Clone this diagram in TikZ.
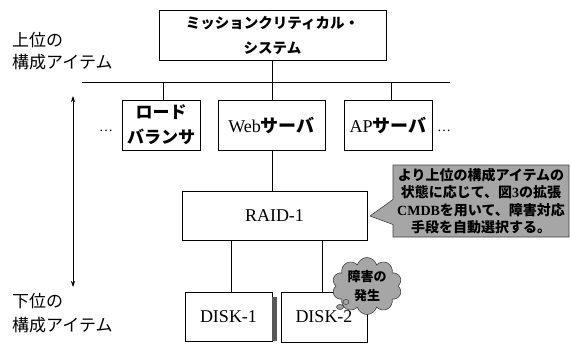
\documentclass[tikz,border=0pt]{standalone}
\usepackage{fontspec}
\setmainfont{Liberation Serif}
\newfontfamily\jp{Noto Sans CJK JP}
\usetikzlibrary{shapes.symbols,shapes.callouts,arrows.meta}
\begin{document}
\begin{tikzpicture}[x=1pt,y=-1pt,
  box/.style={draw, line width=0.7pt, fill=white, inner sep=0pt, align=center},
  link/.style={line width=0.7pt},
  halftone/.style={fill=gray!70, draw=black!75, line width=0.6pt},
  jplabel/.style={font=\jp\fontsize{17}{22}\selectfont, align=left, anchor=west, inner sep=0pt},
  serifbig/.style={font=\fontsize{18}{20}\selectfont},
  dotsnode/.style={font=\fontsize{14}{16}\selectfont, inner sep=0pt}
]
\useasboundingbox (0,0) rectangle (571,345);

% labels
\node[jplabel] (upper) at (12,51) {上位の\\構成アイテム};
\node[jplabel, font=\jp\fontsize{17}{24}\selectfont] (lower) at (12,313) {下位の\\構成アイテム};

% double arrow
\coordinate (aT) at (73,96);
\coordinate (aB) at (73,287);
\draw[link, {Stealth[length=6pt,width=4pt]}-{Stealth[length=6pt,width=4pt]}] (aT) -- (aB);

% top system
\node[box, minimum width=227pt, minimum height=50pt, font=\jp\bfseries\fontsize{14.5}{25}\selectfont] (top) at (272.5,35) {ミッションクリティカル・\\システム};

% bus
\coordinate (busL) at (82,82);
\coordinate (busR) at (450,82);
\draw[link] (busL) -- (busR);
\draw[link] (top.south) -- (top.south |- busL);

% tier 2
\node[box, minimum width=78pt, minimum height=50pt, font=\jp\bfseries\fontsize{17}{25}\selectfont] (lb) at (161,125) {ロード\\バランサ};
\node[box, minimum width=107pt, minimum height=50pt, serifbig] (web) at (271.5,125) {Web{\jp\bfseries サーバ}};
\node[box, minimum width=88pt, minimum height=50pt, serifbig] (ap) at (388,125) {AP{\jp\bfseries サーバ}};

\coordinate (dA) at (163,82);
\coordinate (dC) at (391,82);
\draw[link] (dA) -- (dA |- lb.north);
\draw[link] (top.south |- busL) -- (top.south |- web.north);
\draw[link] (dC) -- (dC |- ap.north);

\node[dotsnode] (dotsL) at (106,131) {\dots};
\node[dotsnode] (dotsR) at (444,131) {\dots};

% RAID
\node[box, minimum width=185pt, minimum height=49pt, serifbig] (raid) at (274.5,215.5) {RAID-1};
\draw[link] (top.south |- web.south) -- (top.south |- raid.north);

% callout
\coordinate (tip) at (370,216);
\node[rectangle callout, halftone, minimum width=176pt, minimum height=72pt,
      callout absolute pointer={(tip)}, callout pointer width=25pt, inner sep=0pt,
      align=center, font=\jp\bfseries\fontsize{14}{17.5}\selectfont] (note) at (481,201)
  {より上位の構成アイテムの\\状態に応じて、図{\rmfamily\bfseries 3}の拡張\\{\rmfamily\bfseries CMDB}を用いて、障害対応\\手段を自動選択する。};

% disks
\node[box, minimum width=87pt, minimum height=49pt, serifbig] (d1) at (228.5,316.5) {DISK-1};
\fill[black!65] ([yshift=-5pt]d1.north east) rectangle ([xshift=5pt]d1.south east);
\node[box, minimum width=86pt, minimum height=50pt, serifbig] (d2) at (324,317) {DISK-2};

\coordinate (r1) at (231,240);
\coordinate (r2) at (322,240);
\draw[link] (r1 |- raid.south) -- (r1 |- d1.north);
\draw[link] (r2 |- raid.south) -- (r2 |- d2.north);

% cloud
\node[cloud, cloud puffs=10, aspect=1.4, halftone, minimum width=64pt, minimum height=46pt,
      inner sep=0pt, align=center, font=\jp\bfseries\fontsize{13}{19}\selectfont] (cloud) at (367,286) {障害の\\発生};
\draw[halftone] (346,302) ellipse (3pt and 2.5pt);
\draw[halftone] (340,307) ellipse (3.5pt and 2.5pt);
\end{tikzpicture}
\end{document}
